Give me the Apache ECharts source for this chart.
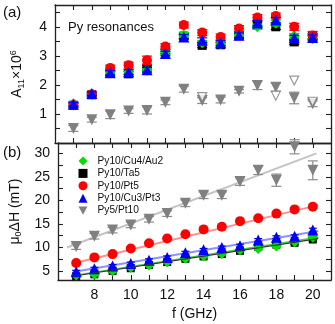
<!DOCTYPE html>
<html><head><meta charset="utf-8">
<script src="https://cdn.jsdelivr.net/npm/echarts@6/dist/echarts.min.js"></script>
<style>html,body{margin:0;padding:0;background:#fff}#c{width:335px;height:324px}</style>
</head><body><div id="c"></div>
<script>
// ---------- data ----------
const freq = [7,8,9,10,11,12,13,14,15,16,17,18,19,20];
const seriesNames = ['Py10/Cu4/Au2','Py10/Ta5','Py10/Pt5','Py10/Cu3/Pt3','Py5/Pt10'];
// panel (a): A11 x 1e6
const aGreen = [1.35,1.68,2.45,2.45,2.50,3.13,3.72,3.45,3.42,3.72,4.00,4.12,3.68,3.60];
const aBlack = [1.30,1.66,2.40,2.38,2.58,3.15,3.68,3.36,3.38,3.69,4.08,4.00,3.48,3.68];
const aRed   = [1.30,1.68,2.58,2.68,2.85,3.32,4.06,3.80,3.65,3.94,4.32,4.37,4.00,3.70];
const aBlue  = [1.33,1.70,2.42,2.44,2.52,3.08,3.65,3.54,3.44,3.71,4.13,4.23,3.62,3.63];
const aGray  = [0.50,0.80,0.97,1.10,1.12,1.40,1.85,1.46,1.48,1.78,1.98,1.92,1.55,1.35];
const aGrayOpenF = [14,18,19,20];
const aGrayOpen  = [1.58,1.63,2.15,1.42];
const aErrColor = [0.07,0.06,0.08,0.08,0.08,0.08,0.08,0.08,0.08,0.08,0.09,0.09,0.09,0.09];
const aErrRed   = [0.08,0.07,0.10,0.10,0.14,0.10,0.10,0.10,0.10,0.10,0.10,0.10,0.12,0.14];
const aErrGray  = [0.10,0.08,0.13,0.08,0.12,0.08,0.10,0.10,0.10,0.06,0.14,0.14,0.20,0.10];
// panel (b): mu0 dH (mT)
const bGreen = [4.15,4.35,5.05,5.80,6.30,7.00,7.70,8.20,8.75,9.50,9.80,10.30,11.20,12.20];
const bBlack = [3.90,4.30,5.00,5.60,6.30,6.90,7.60,8.10,8.60,9.30,10.10,10.60,11.00,11.70];
const bRed   = [6.70,7.90,8.60,9.80,10.90,11.90,12.80,13.85,14.40,15.60,16.20,17.20,18.10,18.65];
const bBlue  = [4.85,5.50,6.10,6.60,7.30,7.90,8.90,9.50,10.00,10.40,11.60,12.20,12.40,13.70];
const bGray  = [10.20,12.40,13.70,14.80,16.00,17.20,19.40,21.10,21.10,24.00,26.40,24.30,31.40,26.40];
const bErrGray = [0.6,0.6,0.6,0.6,0.6,0.6,0.7,0.7,0.7,0.8,0.9,1.3,1.5,2.0];
const bErrColor = [0.3,0.3,0.3,0.3,0.3,0.3,0.3,0.3,0.3,0.3,0.3,0.3,0.3,0.4];
// linear fits (end points)
const fitF = [6.8, 20.3];
const fitGreen = [4.0, 12.2];
const fitBlack = [3.9, 11.9];
const fitRed   = [6.6, 19.0];
const fitBlue  = [4.8, 13.5];
const fitGrayF = [6.5, 20.2];
const fitGray  = [10.0, 30.0];
// ticks
const xLabelVals = [8,10,12,14,16,18,20];
const xTickVals = [7,8,9,10,11,12,13,14,15,16,17,18,19,20];
const aLabelVals = [1,2,3,4];
const aTickVals = [0.5,1,1.5,2,2.5,3,3.5,4,4.5];
const bLabelVals = [5,10,15,20,25,30];
const bTickVals = [5,7.5,10,12.5,15,17.5,20,22.5,25,27.5,30];

// ---------- chart ----------
const FONT = 'Liberation Sans, Arial, sans-serif';
const AX = '#222';
const zip = (xs, ys) => xs.map((x,i)=>[x, ys[i]]);
const zip3 = (xs, ys, es) => xs.map((x,i)=>[x, ys[i], es[i]]);

function errSeries(xi, data, color, cap, z){
  return {
    type:'custom', xAxisIndex:xi, yAxisIndex:xi, z:z, silent:true,
    data:data,
    renderItem:function(params, api){
      const x=api.value(0), y=api.value(1), e=api.value(2);
      const p1=api.coord([x,y+e]), p2=api.coord([x,y-e]);
      const st={stroke:color, lineWidth:1.2};
      return {type:'group', children:[
        {type:'line', shape:{x1:p1[0],y1:p1[1],x2:p2[0],y2:p2[1]}, style:st},
        {type:'line', shape:{x1:p1[0]-cap,y1:p1[1],x2:p1[0]+cap,y2:p1[1]}, style:st},
        {type:'line', shape:{x1:p2[0]-cap,y1:p2[1],x2:p2[0]+cap,y2:p2[1]}, style:st}
      ]};
    }
  };
}
function scat(xi, name, data, color, symbol, size, z, rot){
  return {type:'scatter', name:name, xAxisIndex:xi, yAxisIndex:xi, data:data,
    symbol:symbol, symbolSize:size, symbolRotate:rot||0, z:z,
    itemStyle:{color:color, opacity:1}, emphasis:{disabled:true}};
}
function fitLine(name, xs, ys, color, w, z){
  return {type:'line', name:name, xAxisIndex:1, yAxisIndex:1, data:zip(xs,ys),
    symbol:'none', z:z, silent:true, lineStyle:{color:color, width:w}};
}

const GREEN='#00e000', BLACK='#000000', RED='#ff0000', BLUE='#0000ff', GRAY='#808080';

function xAxisDef(gi, pos, showLabels){
  return {type:'value', gridIndex:gi, position:pos, min:6, max:21,
    axisLine:{onZero:false, lineStyle:{color:AX, width:1.3}},
    axisTick:{inside:true, length:5, customValues:xTickVals, lineStyle:{color:AX, width:1.1}},
    axisLabel:{show:showLabels, customValues:xLabelVals, margin:8, fontSize:14, color:'#111', fontFamily:FONT},
    splitLine:{show:false},
    name: showLabels ? 'f (GHz)' : '', nameLocation:'middle', nameGap:27,
    nameTextStyle:{fontSize:14, color:'#111', fontFamily:FONT}
  };
}
function yAxisDef(gi, pos, min, max, lab, tick, showLabels, name, rich){
  return {type:'value', gridIndex:gi, position:pos, min:min, max:max,
    axisLine:{onZero:false, lineStyle:{color:AX, width:1.3}},
    axisTick:{inside:true, length:5, customValues:tick, lineStyle:{color:AX, width:1.1}},
    axisLabel:{show:showLabels, customValues:lab, margin:8, fontSize:14, color:'#111', fontFamily:FONT},
    splitLine:{show:false},
    name: name||'', nameLocation:'middle', nameRotate:90, nameGap:29,
    nameTextStyle:{fontSize:14, color:'#111', fontFamily:FONT, rich:rich||{}}
  };
}

const richA = {
  m:{fontSize:14, fontFamily:FONT, color:'#111'},
  sub:{fontSize:9, fontFamily:FONT, color:'#111', verticalAlign:'bottom', padding:[8,0,0,0]},
  sup:{fontSize:9, fontFamily:FONT, color:'#111', verticalAlign:'top', padding:[0,0,8,0]}
};

const option = {
  animation:false,
  backgroundColor:'#fff',
  grid:[
    {left:55, top:5, width:276, height:138},
    {left:55, top:143, width:276, height:137}
  ],
  xAxis:[
    xAxisDef(0,'bottom',false), xAxisDef(1,'bottom',true),
    xAxisDef(0,'top',false), xAxisDef(1,'top',false)
  ],
  yAxis:[
    yAxisDef(0,'left',0,4.75,aLabelVals,aTickVals,true,'{m|A}{sub|11}{m|×10}{sup|6}',richA),
    yAxisDef(1,'left',3.1,32.2,bLabelVals,bTickVals,true,'{m|μ}{sub|0}{m|ΔH (mT)}',richA),
    yAxisDef(0,'right',0,4.75,aLabelVals,aTickVals,false),
    yAxisDef(1,'right',3.1,32.2,bLabelVals,bTickVals,false)
  ],
  legend:{
    data:[
      {name:seriesNames[0], icon:'diamond'},
      {name:seriesNames[1], icon:'rect'},
      {name:seriesNames[2], icon:'circle'},
      {name:seriesNames[3], icon:'triangle'},
      {name:seriesNames[4], icon:'path://M0,0L10,0L5,9Z'}
    ],
    orient:'vertical', left:73.5, top:151,
    itemWidth:9, itemHeight:9, itemGap:2.4,
    textStyle:{fontSize:10.2, fontFamily:FONT, color:'#111', padding:[0,0,0,5]},
    selectedMode:false
  },
  graphic:[
    {type:'text', left:3, top:5, style:{text:'(a)', fontSize:15, fontFamily:FONT, fill:'#111'}},
    {type:'text', left:3, top:145, style:{text:'(b)', fontSize:15, fontFamily:FONT, fill:'#111'}},
    {type:'text', left:68, top:21, style:{text:'Py resonances', fontSize:13, fontFamily:FONT, fill:'#111'}}
  ],
  series:[
    // panel a
    errSeries(0, zip3(freq,aGray,aErrGray), '#8c8c8c', 5, 2),
    scat(0,'Py5/Pt10', zip(freq,aGray), GRAY, 'triangle', 11, 3, 180),
    scat(0,'Py5/Pt10 open', zip(aGrayOpenF,aGrayOpen), '#fff', 'triangle', 9, 3, 180),
    errSeries(0, zip3(freq,aBlack,aErrColor), BLACK, 5, 4),
    scat(0,'Py10/Ta5', zip(freq,aBlack), BLACK, 'rect', 9, 5),
    errSeries(0, zip3(freq,aGreen,aErrColor), GREEN, 5, 6),
    scat(0,'Py10/Cu4/Au2', zip(freq,aGreen), GREEN, 'diamond', 11, 7),
    errSeries(0, zip3(freq,aRed,aErrRed), RED, 5, 8),
    scat(0,'Py10/Pt5', zip(freq,aRed), RED, 'circle', 10, 9),
    errSeries(0, zip3(freq,aBlue,aErrColor), BLUE, 5, 10),
    scat(0,'Py10/Cu3/Pt3', zip(freq,aBlue), BLUE, 'triangle', 11, 11),
    // panel b
    fitLine('fitGray', fitGrayF, fitGray, '#c4c4c4', 2, 1),
    fitLine('fitRed', fitF, fitRed, '#ff9090', 2, 1),
    fitLine('fitBlue', fitF, fitBlue, '#9090ff', 2, 1),
    fitLine('fitGreen', fitF, fitGreen, '#40d040', 1.5, 1),
    fitLine('fitBlack', fitF, fitBlack, '#303030', 1.2, 12),
    errSeries(1, zip3(freq,bGray,bErrGray), '#8c8c8c', 5, 2),
    scat(1,'Py5/Pt10', zip(freq,bGray), GRAY, 'triangle', 11, 3, 180),
    errSeries(1, zip3(freq,bBlack,bErrColor), BLACK, 4, 4),
    scat(1,'Py10/Ta5', zip(freq,bBlack), BLACK, 'rect', 8, 5),
    errSeries(1, zip3(freq,bGreen,bErrColor), GREEN, 4, 6),
    scat(1,'Py10/Cu4/Au2', zip(freq,bGreen), GREEN, 'diamond', 11, 7),
    errSeries(1, zip3(freq,bRed,bErrColor), RED, 4, 8),
    scat(1,'Py10/Pt5', zip(freq,bRed), RED, 'circle', 10, 9),
    errSeries(1, zip3(freq,bBlue,bErrColor), BLUE, 4, 10),
    scat(1,'Py10/Cu3/Pt3', zip(freq,bBlue), BLUE, 'triangle', 11, 11)
  ]
};
// open markers need outline
option.series[2].itemStyle = {color:'#fff', borderColor:GRAY, borderWidth:1.2};
const chart = echarts.init(document.getElementById('c'), null, {renderer:'canvas'});
chart.setOption(option);
</script></body></html>
